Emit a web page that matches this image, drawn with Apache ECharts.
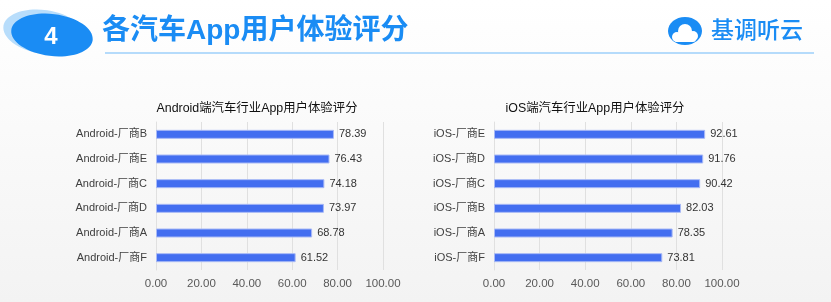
<!DOCTYPE html>
<html><head><meta charset="utf-8">
<script src="https://cdn.jsdelivr.net/npm/echarts@6/dist/echarts.min.js"></script>
<style>html,body{margin:0;padding:0;}#c{width:831px;height:302px;}</style>
</head><body><div id="c"></div>
<script>
const androidCategories = ['Android-厂商B','Android-厂商E','Android-厂商C','Android-厂商D','Android-厂商A','Android-厂商F'];
const androidValues = [78.39, 76.43, 74.18, 73.97, 68.78, 61.52];
const iosCategories = ['iOS-厂商E','iOS-厂商D','iOS-厂商C','iOS-厂商B','iOS-厂商A','iOS-厂商F'];
const iosValues = [92.61, 91.76, 90.42, 82.03, 78.35, 73.81];
const mainTitle = '各汽车App用户体验评分';
const androidTitle = 'Android端汽车行业App用户体验评分';
const iosTitle = 'iOS端汽车行业App用户体验评分';
const brand = '基调听云';
const sectionNo = '4';

const font = '"Liberation Sans","Noto Sans CJK SC",sans-serif';
const chart = echarts.init(document.getElementById('c'));
function xAxis(i){return {type:'value',gridIndex:i,min:0,max:100,interval:20,
  axisLabel:{formatter:v=>v.toFixed(2),color:'#595959',fontSize:11.5,fontFamily:font,margin:8},
  splitLine:{lineStyle:{color:'#e0e0e0'}},axisLine:{show:false},axisTick:{show:false}};}
function yAxis(i,cats){return {type:'category',gridIndex:i,data:cats.slice().reverse(),
  axisLabel:{color:'#404040',fontSize:11,fontFamily:font,margin:9},
  axisLine:{lineStyle:{color:'#e0e0e0'}},axisTick:{show:false}};}
function series(i,vals){return {type:'bar',xAxisIndex:i,yAxisIndex:i,data:vals.slice().reverse(),barWidth:9,
  itemStyle:{color:'#436ef0',borderColor:'#a8b9f6',borderWidth:1},
  label:{show:true,position:'right',formatter:p=>p.value.toFixed(2),color:'#333',fontSize:11,fontFamily:font,distance:5}};}
chart.setOption({
  animation:false,
  backgroundColor:{type:'linear',x:0,y:0,x2:0,y2:1,colorStops:[{offset:0,color:'#ffffff'},{offset:0.18,color:'#fdfdfd'},{offset:1,color:'#f3f3f3'}]},
  title:[
    {text:androidTitle,left:252,top:97,textAlign:'center',textStyle:{fontSize:12.4,fontWeight:'normal',color:'#111',fontFamily:font}},
    {text:iosTitle,left:590,top:97,textAlign:'center',textStyle:{fontSize:12.4,fontWeight:'normal',color:'#111',fontFamily:font}}
  ],
  grid:[{left:156,width:227,top:122,height:148},{left:494,width:228,top:122,height:148}],
  xAxis:[xAxis(0),xAxis(1)],
  yAxis:[yAxis(0,androidCategories),yAxis(1,iosCategories)],
  series:[series(0,androidValues),series(1,iosValues)],
  graphic:[
    {type:'ellipse',shape:{cx:44,cy:32,rx:41,ry:22},rotation:-0.15,originX:44,originY:32,style:{fill:'#b8ddfb'},z:1},
    {type:'ellipse',shape:{cx:52,cy:35,rx:41,ry:21},rotation:-0.12,originX:52,originY:35,style:{fill:'#1a8cf4'},z:2},
    {type:'text',x:51,y:37,style:{text:sectionNo,fill:'#fff',font:'bold 24px '+font,textAlign:'center',textVerticalAlign:'middle'},z:3},
    {type:'text',x:102,y:31,style:{text:mainTitle,fill:'#1a8cf4',font:'bold 28px '+font,textVerticalAlign:'middle'},z:3},
    {type:'line',shape:{x1:105,y1:53,x2:814,y2:53},style:{stroke:'#9ccffa',lineWidth:1.5},z:3},
    {type:'ellipse',shape:{cx:685,cy:31,rx:17,ry:14},style:{fill:'#1a8cf4'},z:3},
    {type:'circle',shape:{cx:677,cy:37,r:5},style:{fill:'#fff'},z:4},
    {type:'circle',shape:{cx:685,cy:31,r:7},style:{fill:'#fff'},z:4},
    {type:'circle',shape:{cx:693,cy:36,r:5},style:{fill:'#fff'},z:4},
    {type:'rect',shape:{x:674,y:36,width:22,height:6,r:3},style:{fill:'#fff'},z:4},
    {type:'text',x:711,y:32,style:{text:brand,fill:'#1a8cf4',font:'500 23px '+font,textVerticalAlign:'middle'},z:3}
  ]
});
</script></body></html>
